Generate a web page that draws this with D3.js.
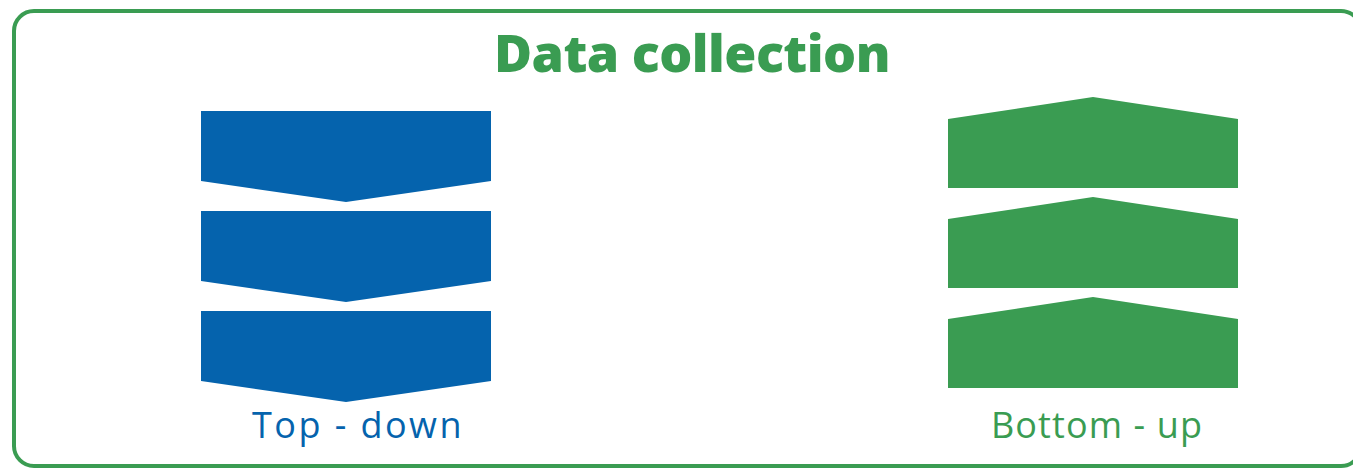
<!DOCTYPE html>
<html>
<head>
<meta charset="utf-8">
<script src="https://cdn.jsdelivr.net/npm/d3@7"></script>
<style>
  body { margin: 0; background: #fff; }
</style>
</head>
<body>
<div class="canva"></div>
<script>
const title = 'Data collection';
const approaches = ['Top - down', 'Bottom - up'];
const layers = [0, 1, 2];
const colors = ['#0563ad', '#3a9c52'];

const W = 1353, H = 468;
const svg = d3.select('.canva').append('svg')
  .attr('width', W)
  .attr('height', H);

// frame (right side runs off the page like the original)
svg.append('rect')
  .attr('x', 14).attr('y', 11)
  .attr('width', 1347).attr('height', 455)
  .attr('rx', 20)
  .attr('fill', 'none')
  .attr('stroke', '#3a9c52')
  .attr('stroke-width', 4);

// stretch text to a target width with letter-spacing (Poppins isn't installed)
function fitWidth(sel, target) {
  sel.each(function () {
    const n = this.textContent.length;
    const w = this.getComputedTextLength();
    d3.select(this).style('letter-spacing', ((target - w) / n) + 'px');
  });
}

svg.append('text')
  .attr('x', 692).attr('y', 72)
  .attr('text-anchor', 'middle')
  .attr('fill', '#3a9c52')
  .style('font-family', '"Open Sans", sans-serif')
  .style('font-weight', 800)
  .style('font-size', '52px')
  .text(title)
  .call(fitWidth, 396);

const x = d3.scalePoint().domain(approaches).range([346, 1093]);
const y = d3.scaleLinear().domain([0, 2]).range([97, 297]);
const halfW = 145;

// each arrow drawn as a polygon around its column centre and layer slot
function arrow(approach, i) {
  const cx = x(approach), t = y(i);
  if (approach === approaches[0]) {
    return [[cx - halfW, t + 14], [cx + halfW, t + 14], [cx + halfW, t + 84],
            [cx, t + 105], [cx - halfW, t + 84]];
  }
  return [[cx - halfW, t + 22], [cx, t], [cx + halfW, t + 22],
          [cx + halfW, t + 91], [cx - halfW, t + 91]];
}

const cols = svg.selectAll('g.col')
  .data(approaches)
  .enter().append('g')
  .attr('class', 'col');

cols.selectAll('path')
  .data(a => layers.map(i => ({a, i})))
  .enter().append('path')
  .attr('d', d => d3.line()(arrow(d.a, d.i)) + 'Z')
  .attr('fill', d => colors[approaches.indexOf(d.a)]);

cols.append('text')
  .attr('x', (d, i) => x(d) + (i === 0 ? 12 : 4))
  .attr('y', 438)
  .attr('text-anchor', 'middle')
  .attr('fill', (d, i) => colors[i])
  .style('font-family', '"Open Sans", sans-serif')
  .style('font-size', '36px')
  .text(d => d)
  .call(fitWidth, 212);
</script>
</body>
</html>
